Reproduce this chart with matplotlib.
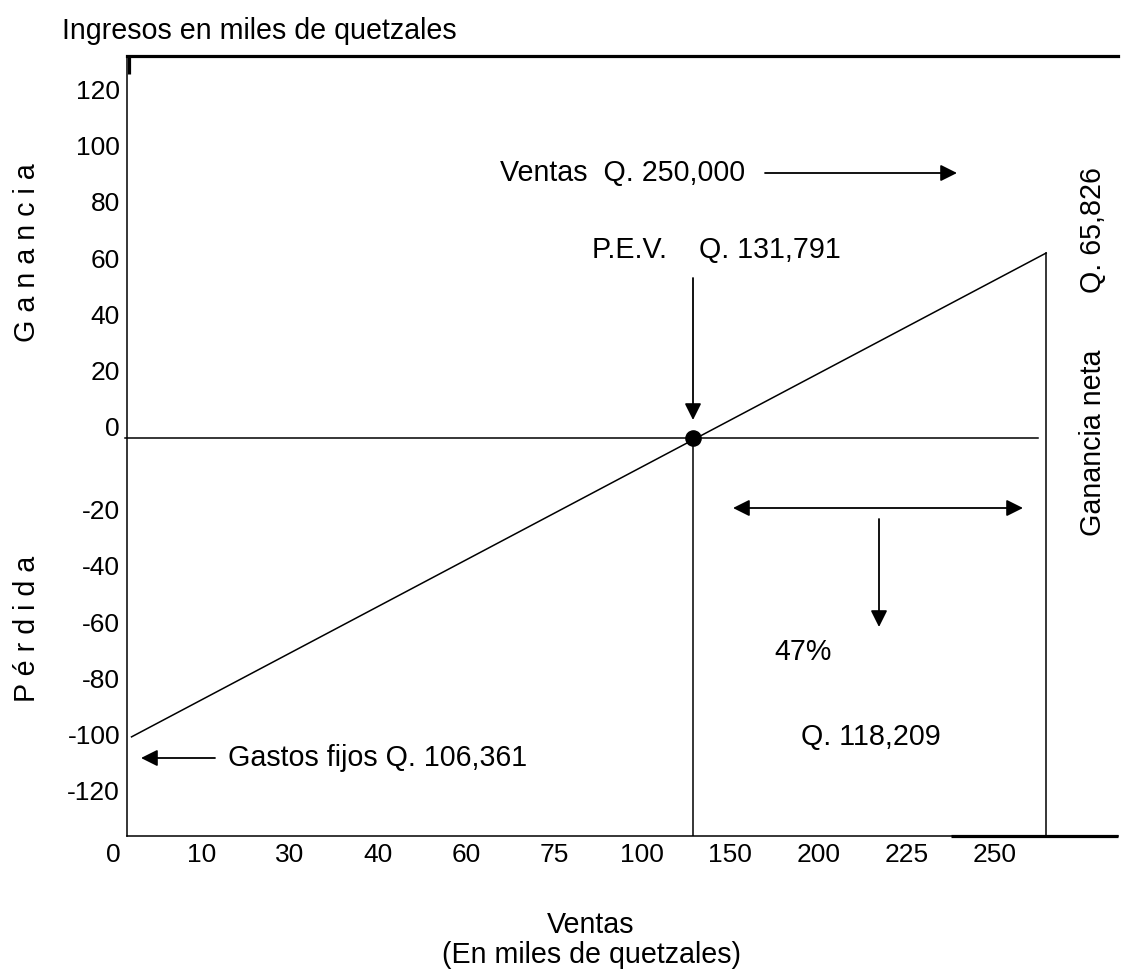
import matplotlib.pyplot as plt
from matplotlib.patches import FancyArrowPatch

plt.rcParams["font.family"] = ["Liberation Sans", "DejaVu Sans"]

# categorical sales ticks (thousands of quetzales), evenly spaced slots
x_labels = ["0", "10", "30", "40", "60", "75", "100", "150", "200", "225", "250"]
y_values = [120, 100, 80, 60, 40, 20, 0, -20, -40, -60, -80, -100, -120]

# break-even data (thousands of quetzales)
fixed_costs = -106.361
net_profit = 65.826
start_pos = 0.21     # slot where the profit line starts
pev_pos = 6.58       # slot of the break-even point
sales_pos = 10.58    # slot of total sales (250,000)
zero_end = 10.49

W, H = 1123, 975
fig = plt.figure(figsize=(W / 100, H / 100), dpi=100)

# axes box in pixels: x 127..1118, y 56..836
ax = fig.add_axes([127 / W, 1 - 836 / H, (1118 - 127) / W, (836 - 56) / H])
x0, dx = 113, 88.2
xmin, xmax = (127 - x0) / dx, (1118 - x0) / dx
ymin, ymax = (438 - 836) / 2.81, (438 - 56) / 2.81

# profit line and guides
ax.plot([start_pos, sales_pos], [fixed_costs, net_profit], color="black", lw=1.1)
ax.plot([xmin - 0.02, zero_end], [0, 0], color="black", lw=1.1, clip_on=False)
ax.plot([pev_pos, pev_pos], [0, ymin], color="black", lw=1.1)
ax.plot([sales_pos, sales_pos], [net_profit, ymin], color="black", lw=1.1)
ax.scatter([pev_pos], [0], s=120, color="black", zorder=5)

# frame
ax.spines["right"].set_visible(False)
ax.spines["left"].set_linewidth(1.1)
ax.spines["bottom"].set_linewidth(1.1)
ax.spines["top"].set_linewidth(2.3)
ax.plot([(951 - x0) / dx, xmax], [ymin, ymin],
        color="black", lw=2.3, clip_on=False, solid_capstyle="butt")
ax.plot([xmin + 0.025, xmin + 0.025], [ymax, (438 - 74) / 2.81],
        color="black", lw=2.3, clip_on=False, solid_capstyle="butt")

ax.set_xticks(range(1, len(x_labels)))
ax.set_xticklabels(x_labels[1:], fontsize=19)
# first label sits left of the frame, outside the view limits
ax.annotate(x_labels[0], xy=(0, ymin), xytext=(0, -5), textcoords="offset points",
            ha="center", va="top", fontsize=19, annotation_clip=False)
ax.set_yticks([v + 4 if v >= 0 else v - 5.5 for v in y_values])
ax.set_yticklabels([str(v) for v in y_values], fontsize=19)
ax.tick_params(length=0)
ax.tick_params(axis="x", pad=5)
ax.tick_params(axis="y", pad=5)
ax.set_xlim(xmin, xmax)
ax.set_ylim(ymin, ymax)


def P(x, y):
    return (x / W, 1 - y / H)


def arrow(start, end, style="-|>"):
    fig.add_artist(FancyArrowPatch(
        P(*start), P(*end), transform=fig.transFigure,
        arrowstyle=style + ",head_length=0.5,head_width=0.25",
        mutation_scale=20, color="black", lw=1.3, shrinkA=0, shrinkB=0))


fs = 20.6
fig.text(*P(62, 31), "Ingresos en miles de quetzales", fontsize=fs, va="center")
fig.text(*P(27, 253), "G a n a n c i a", fontsize=fs, rotation=90, ha="center", va="center")
fig.text(*P(27, 629), "P é r d i d a", fontsize=fs, rotation=90, ha="center", va="center")
fig.text(*P(1093, 230), "Q. 65,826", fontsize=fs, rotation=90, ha="center", va="center")
fig.text(*P(1093, 443), "Ganancia neta", fontsize=fs, rotation=90, ha="center", va="center")

fig.text(*P(500, 173), "Ventas  Q. 250,000", fontsize=fs, va="center")
arrow((765, 173), (957, 173))
fig.text(*P(592, 250), "P.E.V.    Q. 131,791", fontsize=fs, va="center")
arrow((693, 278), (693, 420))

fig.text(*P(228, 758), "Gastos fijos Q. 106,361", fontsize=fs, va="center")
arrow((215, 758), (141, 758))

arrow((733, 508), (1023, 508), style="<|-|>")
arrow((879, 519), (879, 627))
fig.text(*P(803, 652), "47%", fontsize=fs, ha="center", va="center")
fig.text(*P(871, 737), "Q. 118,209", fontsize=fs, ha="center", va="center")

fig.text(*P(591, 925), "Ventas", fontsize=fs, ha="center", va="center")
fig.text(*P(591, 955), "(En miles de quetzales)", fontsize=fs, ha="center", va="center")

fig.savefig("out.png", dpi=100)
